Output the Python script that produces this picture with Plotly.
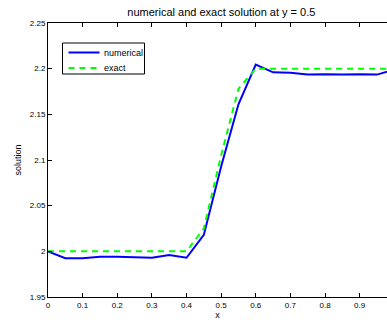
import plotly.graph_objects as go

x_num = [0.0, 0.05, 0.1, 0.15, 0.2, 0.25, 0.3, 0.35, 0.4, 0.45, 0.5,
         0.55, 0.6, 0.65, 0.7, 0.75, 0.8, 0.85, 0.9, 0.95, 1.0]
y_num = [2.0, 1.9925, 1.9925, 1.994, 1.994, 1.9935, 1.993, 1.996, 1.993, 2.018, 2.093,
         2.161, 2.2045, 2.196, 2.1955, 2.1935, 2.194, 2.1935, 2.194, 2.1935, 2.199]
x_exact = [0.0, 0.4, 0.45, 0.5, 0.55, 0.6, 1.0]
y_exact = [2.0, 2.0, 2.025, 2.105, 2.178, 2.2, 2.2]

x_ticks = [0, 0.1, 0.2, 0.3, 0.4, 0.5, 0.6, 0.7, 0.8, 0.9, 1]
x_ticklabels = ["0", "0.1", "0.2", "0.3", "0.4", "0.5", "0.6", "0.7", "0.8", "0.9", "1"]
y_ticks = [1.95, 2.0, 2.05, 2.1, 2.15, 2.2, 2.25]
y_ticklabels = ["1.95", "2", "2.05", "2.1", "2.15", "2.2", "2.25"]

series_names = ["numerical", "exact"]
series_colors = ["#0000ff", "#00ff00"]
series_dash = ["solid", "6px,5px"]

fig = go.Figure()
fig.add_trace(go.Scatter(x=x_num, y=y_num, mode="lines", name=series_names[0],
                         line=dict(color=series_colors[0], width=2, dash=series_dash[0]),
                         showlegend=False))
fig.add_trace(go.Scatter(x=x_exact, y=y_exact, mode="lines", name=series_names[1],
                         line=dict(color=series_colors[1], width=2, dash=series_dash[1]),
                         showlegend=False))

# manual legend box (paper coordinates)
L, R, B, T = 48, 387, 297, 23
def px(v):
    return (v - L) / (R - L)
def py(v):
    return (B - v) / (B - T)

fig.add_shape(type="rect", xref="paper", yref="paper",
              x0=px(62.5), x1=px(144.5), y0=py(74), y1=py(43),
              line=dict(color="black", width=1), fillcolor="white", layer="above")
for i, (nm, col, ds) in enumerate(zip(series_names, series_colors, series_dash)):
    yy = py(52.5 + 15.5 * i)
    fig.add_shape(type="line", xref="paper", yref="paper",
                  x0=px(68.5), x1=px(99.5), y0=yy, y1=yy,
                  line=dict(color=col, width=2, dash=ds), layer="above")
    fig.add_annotation(text=nm, xref="paper", yref="paper", x=px(101.5), y=yy,
                       xanchor="left", yanchor="middle", showarrow=False,
                       font=dict(size=9), xshift=0)

font = "Liberation Sans, Arial, Helvetica, sans-serif"
fig.update_layout(
    width=387, height=320,
    margin=dict(l=48, r=0, t=23, b=23),
    paper_bgcolor="white", plot_bgcolor="white",
    font=dict(family=font, size=8, color="black"),
    title=dict(text="numerical and exact solution at y = 0.5", x=0.572, xanchor="center",
               y=0.963, yanchor="middle", font=dict(size=11)),
    showlegend=False,
    xaxis=dict(range=[0, 0.979], tickvals=x_ticks, ticktext=x_ticklabels,
               ticks="inside", ticklen=4, tickcolor="black", showline=True,
               linecolor="black", linewidth=1, mirror="allticks", showgrid=False,
               zeroline=False,
               title=dict(text="x", standoff=0, font=dict(size=9))),
    yaxis=dict(range=[1.95, 2.25], tickvals=y_ticks, ticktext=y_ticklabels,
               ticks="inside", ticklen=4, tickcolor="black", showline=True,
               linecolor="black", linewidth=1, mirror=False, showgrid=False,
               zeroline=False,
               title=dict(text="solution", standoff=6, font=dict(size=9))),
)

fig.write_html("out.html")
